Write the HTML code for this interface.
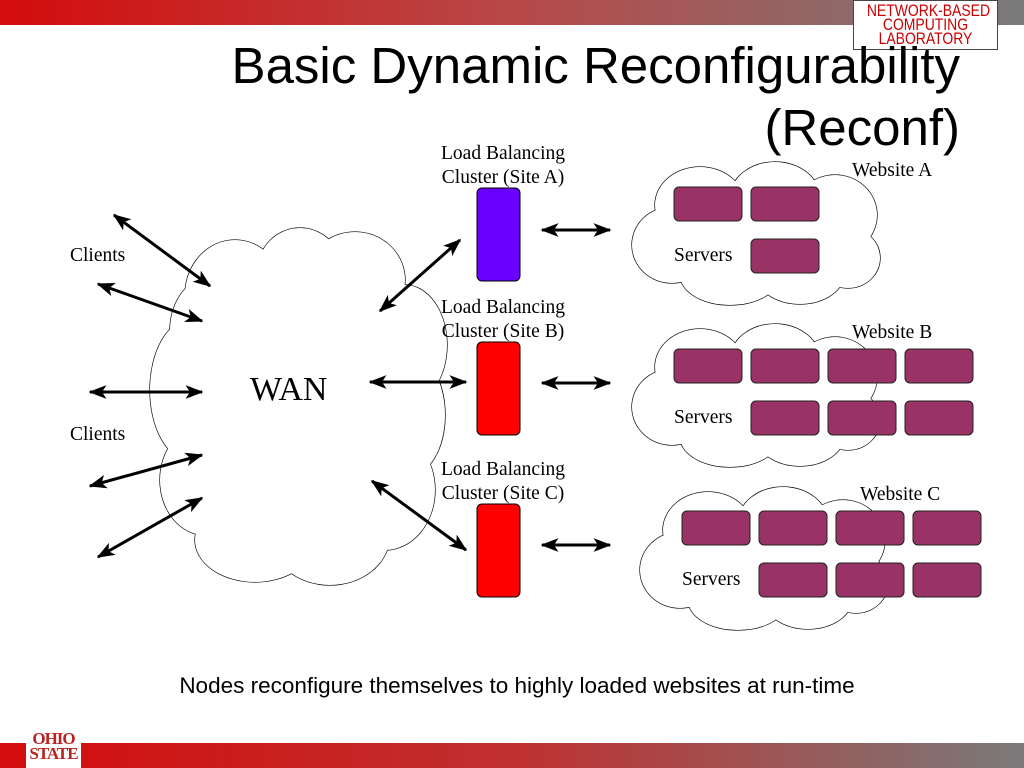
<!DOCTYPE html>
<html><head><meta charset="utf-8"><style>
body{margin:0;width:1024px;height:768px;overflow:hidden;background:#fff;position:relative;font-family:"Liberation Serif",serif}
.top{position:absolute;left:0;top:0;width:1024px;height:25px;background:linear-gradient(90deg,#d40c0c,#b84848 50%,#7a7a7a)}
.bot{position:absolute;left:0;top:743px;width:1024px;height:25px;background:linear-gradient(90deg,#d40c0c,#c03030 50%,#7a7a7a)}
.logo{position:absolute;left:853px;top:0;width:143px;height:48px;background:#fff;border:1px solid #444;overflow:hidden}
.logo div{color:#c00;font-family:"Liberation Sans",sans-serif;font-size:17px;line-height:14px;text-align:center;transform:scaleX(0.82);transform-origin:50% 0;width:143px;margin-top:3px;white-space:nowrap}
.osu{position:absolute;left:26px;top:727px;width:55px;height:41px;background:#fff;color:#b22;font-family:"Liberation Serif",serif;font-size:17px;line-height:15px;text-align:center;font-weight:bold;padding-top:4px;box-sizing:border-box;letter-spacing:-1px}
.t{position:absolute;font-family:"Liberation Sans",sans-serif;font-size:51px;color:#000;text-align:right;right:64px;white-space:nowrap}
.s{position:absolute;font-size:19.5px;color:#000;white-space:nowrap}
</style></head><body>
<div class="top"></div><div class="bot"></div>
<div class="logo"><div>NETWORK-BASED<br>COMPUTING<br>LABORATORY</div></div>
<div class="osu">OHIO<br>STATE</div>
<div class="t" style="top:36px">Basic Dynamic Reconfigurability</div>
<div class="t" style="top:98px">(Reconf)</div>
<svg width="1024" height="768" style="position:absolute;left:0;top:0">
<defs>
<g id="ca">
<ellipse cx="700" cy="205" rx="45" ry="38"/><ellipse cx="775" cy="198" rx="45" ry="36"/><ellipse cx="835" cy="215" rx="42" ry="40"/><ellipse cx="848" cy="258" rx="32" ry="30"/><ellipse cx="800" cy="272" rx="45" ry="32"/><ellipse cx="730" cy="275" rx="50" ry="30"/><ellipse cx="672" cy="245" rx="40" ry="38"/><ellipse cx="760" cy="240" rx="80" ry="50"/>
</g>
<g id="wan">
<ellipse cx="235" cy="295" rx="50" ry="55"/><ellipse cx="300" cy="270" rx="42" ry="42"/><ellipse cx="355" cy="280" rx="50" ry="48"/><ellipse cx="405" cy="345" rx="42" ry="60"/><ellipse cx="410" cy="415" rx="35" ry="60"/><ellipse cx="385" cy="490" rx="50" ry="60"/><ellipse cx="330" cy="535" rx="60" ry="50"/><ellipse cx="255" cy="540" rx="60" ry="42"/><ellipse cx="205" cy="480" rx="45" ry="55"/><ellipse cx="190" cy="390" rx="40" ry="70"/><ellipse cx="215" cy="330" rx="45" ry="55"/><ellipse cx="300" cy="410" rx="130" ry="150"/>
</g>
<marker id="ah" markerWidth="6" markerHeight="4.6" refX="5.5" refY="2.3" orient="auto-start-reverse" markerUnits="strokeWidth"><path d="M0,0 L6,2.3 L0,4.6 L1.5,2.3z" fill="#000"/></marker>
</defs>
<g stroke="#000" stroke-width="1.3" fill="#fff"><use href="#wan"/><use href="#ca"/><use href="#ca" transform="translate(0,162)"/><use href="#ca" transform="translate(8,325)"/></g>
<g stroke="none" fill="#fff"><use href="#wan"/><use href="#ca"/><use href="#ca" transform="translate(0,162)"/><use href="#ca" transform="translate(8,325)"/></g>
<g stroke="#000" stroke-width="3" marker-start="url(#ah)" marker-end="url(#ah)">
<line x1="114" y1="215" x2="210" y2="286"/><line x1="98" y1="284" x2="202" y2="321"/><line x1="90" y1="392" x2="202" y2="392"/><line x1="90" y1="486" x2="202" y2="455"/><line x1="98" y1="557" x2="202" y2="498"/>
<line x1="380" y1="311" x2="460" y2="240"/><line x1="370" y1="382" x2="466" y2="382"/><line x1="372" y1="481" x2="466" y2="550"/>
<line x1="542" y1="230" x2="610" y2="230"/><line x1="542" y1="383" x2="610" y2="383"/><line x1="542" y1="545" x2="610" y2="545"/>
</g>
<g stroke="#000" stroke-width="1">
<rect x="477" y="188" width="43" height="93" rx="5" fill="#6a00ff"/>
<rect x="477" y="342" width="43" height="93" rx="5" fill="#ff0000"/>
<rect x="477" y="504" width="43" height="93" rx="5" fill="#ff0000"/>
</g>
<g stroke="#222" stroke-width="1" fill="#993366">
<rect x="674" y="187" width="68" height="34" rx="5"/><rect x="751" y="187" width="68" height="34" rx="5"/><rect x="751" y="239" width="68" height="34" rx="5"/>
<rect x="674" y="349" width="68" height="34" rx="5"/><rect x="751" y="349" width="68" height="34" rx="5"/><rect x="828" y="349" width="68" height="34" rx="5"/><rect x="905" y="349" width="68" height="34" rx="5"/>
<rect x="751" y="401" width="68" height="34" rx="5"/><rect x="828" y="401" width="68" height="34" rx="5"/><rect x="905" y="401" width="68" height="34" rx="5"/>
<rect x="682" y="511" width="68" height="34" rx="5"/><rect x="759" y="511" width="68" height="34" rx="5"/><rect x="836" y="511" width="68" height="34" rx="5"/><rect x="913" y="511" width="68" height="34" rx="5"/>
<rect x="759" y="563" width="68" height="34" rx="5"/><rect x="836" y="563" width="68" height="34" rx="5"/><rect x="913" y="563" width="68" height="34" rx="5"/>
</g>
</svg>
<div class="s" style="left:70px;top:245px">Clients</div>
<div class="s" style="left:70px;top:424px">Clients</div>
<div class="s" style="left:250px;top:371px;font-size:34px">WAN</div>
<div class="s" style="left:423px;top:142px;width:160px;text-align:center;line-height:24px">Load Balancing<br>Cluster (Site A)</div>
<div class="s" style="left:423px;top:296px;width:160px;text-align:center;line-height:24px">Load Balancing<br>Cluster (Site B)</div>
<div class="s" style="left:423px;top:458px;width:160px;text-align:center;line-height:24px">Load Balancing<br>Cluster (Site C)</div>
<div class="s" style="left:852px;top:160px">Website A</div>
<div class="s" style="left:852px;top:322px">Website B</div>
<div class="s" style="left:860px;top:484px">Website C</div>
<div class="s" style="left:674px;top:245px">Servers</div>
<div class="s" style="left:674px;top:407px">Servers</div>
<div class="s" style="left:682px;top:569px">Servers</div>
<div class="s" style="left:0;width:1034px;text-align:center;top:673px;font-family:'Liberation Sans',sans-serif;font-size:22.5px">Nodes reconfigure themselves to highly loaded websites at run-time</div>
</body></html>
